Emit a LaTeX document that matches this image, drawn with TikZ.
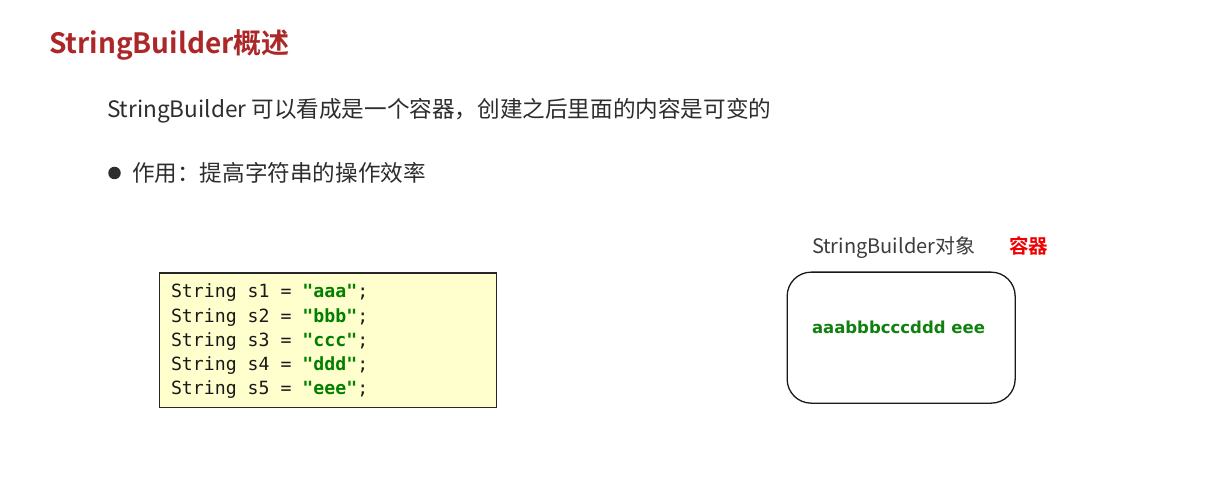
\documentclass[tikz,border=0pt]{standalone}
\usepackage{fontspec}
\setmainfont{Noto Sans CJK SC}[BoldFont={Noto Sans CJK SC Bold}]
\newfontfamily\codefont{DejaVu Sans Mono}[BoldFont={DejaVu Sans Mono Bold}]
\newfontfamily\vfont{DejaVu Sans}[BoldFont={DejaVu Sans Bold}]
\definecolor{titlered}{RGB}{172,40,40}
\definecolor{bodygray}{RGB}{45,45,45}
\definecolor{labelgray}{RGB}{60,60,60}
\definecolor{codebg}{RGB}{255,255,206}
\definecolor{codegreen}{RGB}{0,128,0}
\definecolor{strgreen}{RGB}{16,128,16}
\definecolor{accentred}{RGB}{240,0,0}
\tikzset{
  txt/.style={anchor=base west, inner sep=0pt, outer sep=0pt},
  codeline/.style={txt, font=\codefont\fontsize{18.2}{20}\selectfont, text=black!90},
  codebox/.style={draw=black!85, line width=1.3pt, fill=codebg, inner sep=0pt, anchor=north west},
  container/.style={draw=black!90, line width=1.3pt, rounded corners=24pt, inner sep=0pt, anchor=north west},
}
\newcommand{\gstr}[1]{\textcolor{codegreen}{\bfseries #1}}
\begin{document}
\begin{tikzpicture}[x=1pt,y=-1pt]
\useasboundingbox[fill=white] (0,0) rectangle (1228,486);
% title
\node[txt, font=\fontsize{28}{32}\selectfont\bfseries, text=titlered] (title) at (49,54) {StringBuilder概述};
% description
\node[txt, font=\fontsize{22.6}{24}\selectfont, text=bodygray] (desc) at (107,118) {StringBuilder 可以看成是一个容器，创建之后里面的内容是可变的};
% bullet
\node[circle, fill=bodygray, minimum size=12.5pt, inner sep=0pt] (dot) at (114.5,173) {};
\node[txt, font=\fontsize{22.6}{24}\selectfont, text=bodygray] (use) at (132,182) {作用：提高字符串的操作效率};
% code box
\node[codebox, minimum width=337pt, minimum height=134pt] (code) at (158.5,272.5) {};
\node[codeline] (l1) at (171,298) {String s1 = \gstr{"aaa"};};
\node[codeline] (l2) at (171,322) {String s2 = \gstr{"bbb"};};
\node[codeline] (l3) at (171,346) {String s3 = \gstr{"ccc"};};
\node[codeline] (l4) at (171,370) {String s4 = \gstr{"ddd"};};
\node[codeline] (l5) at (171,394) {String s5 = \gstr{"eee"};};
% StringBuilder object
\node[txt, font=\fontsize{20}{22}\selectfont, text=labelgray] (sblabel) at (812,254) {StringBuilder对象};
\node[txt, font=\fontsize{19.5}{22}\selectfont\bfseries, text=accentred] (cont) at (1009,254) {容器};
\node[container, minimum width=228pt, minimum height=131pt] (sb) at (786.5,271.5) {};
\node[txt, font=\vfont\fontsize{16.5}{18}\selectfont\bfseries, text=strgreen] (content) at (812,333) {aaabbbcccddd eee};
\end{tikzpicture}
\end{document}
